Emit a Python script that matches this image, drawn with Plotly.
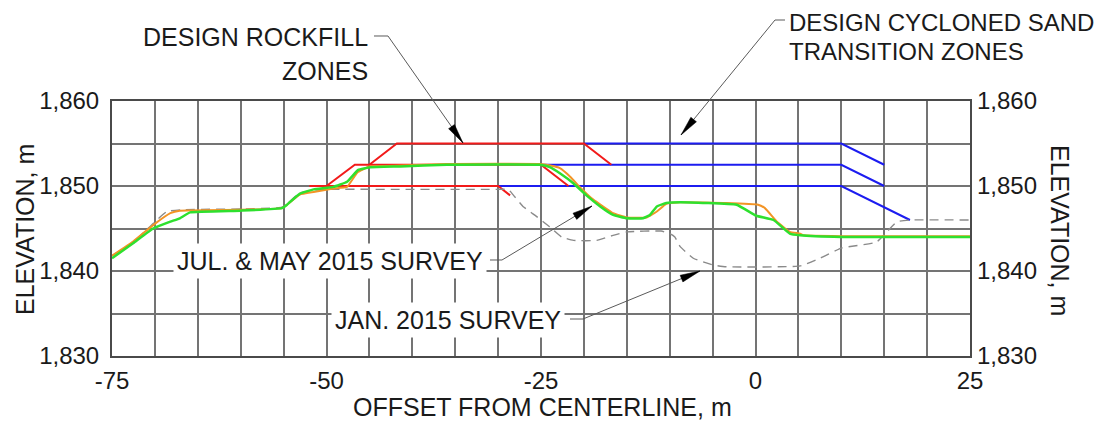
import plotly.graph_objects as go

# ---------------- data ----------------
# Design rockfill zones (red)
rock_top_x = [-45.0, -41.8, -20.0, -16.8]
rock_top_y = [1852.5, 1855.0, 1855.0, 1852.5]
rock_mid_x = [-50.0, -46.7, -25.0, -21.8]
rock_mid_y = [1850.0, 1852.5, 1852.5, 1850.0]
rock_low_x = [-52.0, -30.0, -28.6]
rock_low_y = [1850.0, 1850.0, 1848.9]

# Design cycloned sand transition zones (blue)
sand_top_x = [-20.0, 10.0, 15.0]
sand_top_y = [1855.0, 1855.0, 1852.5]
sand_mid_x = [-25.0, 10.0, 15.0]
sand_mid_y = [1852.5, 1852.5, 1850.0]
sand_low_x = [-30.0, 10.0, 18.0]
sand_low_y = [1850.0, 1850.0, 1846.0]

# Jan. 2015 survey (dashed gray)
jan_x = [-75, -72.5, -70.2, -68.6, -67, -60, -55.2, -54.5, -53.1, -51.5, -50, -40, -30,
         -28.8, -28.2, -27.1, -25.5, -24.0, -22.6, -21.2, -18.5, -16.6, -15.0, -11.0,
         -10.0, -9.4, -8.8, -7.25, -4.9, -3.4, 5.2, 7.5, 10.0, 14.1, 15.3, 16.5, 18.0, 25]
jan_y = [1841.8, 1843.4, 1845.6, 1847.0, 1847.2, 1847.3, 1847.5, 1848.0, 1849.2, 1849.5,
         1849.6, 1849.6, 1849.6, 1849.6, 1848.9, 1847.6, 1846.4, 1845.2, 1844.0, 1843.6,
         1843.6, 1844.2, 1844.6, 1844.7, 1844.4, 1844.0, 1842.9, 1841.5, 1840.7, 1840.5,
         1840.6, 1841.5, 1842.7, 1843.4, 1844.6, 1845.8, 1846.0, 1846.0]

# May 2015 survey (orange)
may_x = [-75, -72.5, -70.2, -68.2, -67.1, -60, -55.2, -54.6, -53.1, -51.5, -49.2, -47.6,
         -46.4, -45, -41.4, -36, -25.1, -23.9, -22.8, -21.6, -20.5, -18.9, -16.6, -15.0,
         -12.7, -11.5, -10.4, -8.8, -3.4, 0.3, 1.1, 2.5, 4.0, 5.2, 5.6, 10, 25]
may_y = [1841.8, 1843.5, 1845.4, 1846.8, 1847.1, 1847.2, 1847.4, 1847.8, 1849.0, 1849.3,
         1849.7, 1849.9, 1851.6, 1852.3, 1852.4, 1852.6, 1852.6, 1852.4, 1852.1, 1851.1,
         1849.9, 1848.4, 1846.8, 1846.3, 1846.3, 1847.0, 1847.9, 1848.1, 1848.0, 1847.8,
         1847.4, 1845.8, 1844.6, 1844.4, 1844.2, 1844.1, 1844.1]

# Jul. 2015 survey (green)
jul_x = [-75, -72.5, -70.2, -68.2, -67.1, -65.9, -60, -55.2, -54.6, -53.1, -51.5, -49.2,
         -47.6, -46.3, -44.9, -41.4, -36, -25.1, -23.9, -22.8, -21.2, -19.7, -18.1, -16.6,
         -15.0, -13.1, -12.3, -11.5, -10.4, -8.8, -2.2, 0.1, 2.1, 4.0, 5.2, 10.0, 25]
jul_y = [1841.5, 1843.3, 1845.0, 1845.8, 1846.2, 1846.9, 1847.1, 1847.4, 1847.8, 1849.1,
         1849.6, 1849.9, 1850.5, 1851.9, 1852.2, 1852.3, 1852.5, 1852.5, 1852.2, 1851.5,
         1850.3, 1848.9, 1847.6, 1846.6, 1846.2, 1846.2, 1846.6, 1847.6, 1848.0, 1848.1,
         1847.8, 1846.5, 1846.0, 1844.4, 1844.2, 1844.0, 1844.0]

x_ticks = [-75, -50, -25, 0, 25]
x_ticktext = ["-75", "-50", "-25", "0", "25"]
y_ticks = [1830, 1840, 1850, 1860]
y_ticktext = ["1,830", "1,840", "1,850", "1,860"]

# ---------------- layout geometry (reference pixel coords) ----------------
WIN_W, WIN_H = 1109, 421
OFF = 8  # page body margin
W, H = WIN_W - OFF, WIN_H - OFF
PL, PR, PT, PB = 112, 970, 101, 356
FONT = "Liberation Sans, Arial, sans-serif"
TXT = "#1a1a1a"
LEAD = "#5a5a5a"


def pp(px, py):
    return (px - PL) / (PR - PL), (PB - py) / (PB - PT)


fig = go.Figure()

RED = "#f21a1a"
BLUE = "#1c1cf0"
for xs, ys in [(sand_top_x, sand_top_y), (sand_mid_x, sand_mid_y), (sand_low_x, sand_low_y)]:
    fig.add_trace(go.Scatter(x=xs, y=ys, mode="lines", line=dict(color=BLUE, width=2),
                             showlegend=False, hoverinfo="skip"))
for xs, ys in [(rock_top_x, rock_top_y), (rock_mid_x, rock_mid_y), (rock_low_x, rock_low_y)]:
    fig.add_trace(go.Scatter(x=xs, y=ys, mode="lines", line=dict(color=RED, width=2),
                             showlegend=False, hoverinfo="skip"))
fig.add_trace(go.Scatter(x=jan_x, y=jan_y, mode="lines",
                         line=dict(color="#8a8a8a", width=1.4, dash="9px,6px", shape="spline", smoothing=0.4),
                         showlegend=False, hoverinfo="skip"))
fig.add_trace(go.Scatter(x=may_x, y=may_y, mode="lines",
                         line=dict(color="#f39425", width=2, shape="spline", smoothing=0.3),
                         showlegend=False, hoverinfo="skip"))
fig.add_trace(go.Scatter(x=jul_x, y=jul_y, mode="lines", yaxis="y2",
                         line=dict(color="#2ee02e", width=2.5, shape="spline", smoothing=0.3),
                         showlegend=False, hoverinfo="skip"))

grid = dict(gridcolor="#747474", gridwidth=1.5)
tickfont = dict(family=FONT, size=24, color=TXT)

fig.update_layout(
    width=W, height=H, autosize=False,
    margin=dict(l=PL - OFF, r=WIN_W - PR, t=PT - OFF, b=WIN_H - PB, pad=0),
    paper_bgcolor="white", plot_bgcolor="white",
    showlegend=False,
    xaxis=dict(range=[-75, 25], tickvals=x_ticks, ticktext=x_ticktext, ticks="",
               showgrid=True, **grid,
               minor=dict(dtick=5, tick0=0, showgrid=True, **grid),
               zeroline=False, showline=True, mirror=True, linecolor="#4a4a4a", linewidth=2,
               tickfont=tickfont, ticklabelstandoff=2),
    yaxis=dict(range=[1830, 1860], tickvals=y_ticks, ticktext=y_ticktext, ticks="",
               showgrid=True, **grid,
               minor=dict(dtick=5, tick0=1830, showgrid=True, **grid),
               zeroline=False, showline=True, mirror=True, linecolor="#4a4a4a", linewidth=2,
               tickfont=tickfont, ticklabelstandoff=6),
    yaxis2=dict(range=[1830, 1860], overlaying="y", side="right", tickvals=y_ticks,
                ticktext=y_ticktext, ticks="", showgrid=False, zeroline=False,
                tickfont=tickfont, ticklabelstandoff=6),
)

annotations = []
shapes = []


def text_at(px, py, text, xanchor="center", bg=None, angle=0, pad=0, size=25):
    x, y = pp(px, py)
    d = dict(x=x, y=y, xref="paper", yref="paper", text=text, showarrow=False,
             xanchor=xanchor, yanchor="middle", textangle=angle,
             font=dict(family=FONT, size=size, color=TXT))
    if bg:
        d.update(bgcolor=bg, borderpad=pad)
    annotations.append(d)


# axis titles
text_at(25, 230, "ELEVATION, m", angle=-90)
text_at(1060, 230, "ELEVATION, m", angle=90)
text_at(542, 407, "OFFSET FROM CENTERLINE, m")

# callout labels
text_at(370, 37, "DESIGN ROCKFILL", xanchor="right")
text_at(370, 71, "ZONES", xanchor="right")
text_at(787, 22, "DESIGN CYCLONED SAND", xanchor="left", size=24)
text_at(787, 51, "TRANSITION ZONES", xanchor="left", size=24)
text_at(330, 261, "JUL. &amp; MAY 2015 SURVEY", bg="white", pad=3)
text_at(448, 320, "JAN. 2015 SURVEY", bg="white", pad=3)


def leader(points, head_len=20, head_half=3.6):
    # polyline (pixel coords) ending at arrow tip, plus filled arrowhead
    path = "M " + " L ".join("%f,%f" % pp(*p) for p in points)
    shapes.append(dict(type="path", xref="paper", yref="paper", path=path,
                       line=dict(color=LEAD, width=1)))
    (bx, by), (tx, ty) = points[-2], points[-1]
    dx, dy = tx - bx, ty - by
    n = (dx * dx + dy * dy) ** 0.5
    ux, uy = dx / n, dy / n
    cx, cy = tx - head_len * ux, ty - head_len * uy
    p1 = (cx - head_half * uy, cy + head_half * ux)
    p2 = (cx + head_half * uy, cy - head_half * ux)
    tri = "M %f,%f L %f,%f L %f,%f Z" % (*pp(tx, ty), *pp(*p1), *pp(*p2))
    shapes.append(dict(type="path", xref="paper", yref="paper", path=tri,
                       fillcolor="black", line=dict(color="black", width=0.5)))


leader([(374, 36), (388, 36), (463, 143)])
leader([(785, 20), (775, 20), (681, 135)])
leader([(490, 260), (502, 260), (592, 206)])
leader([(570, 319), (583, 319), (700, 271)])

fig.update_layout(annotations=annotations, shapes=shapes)

fig.write_html("out.html")
